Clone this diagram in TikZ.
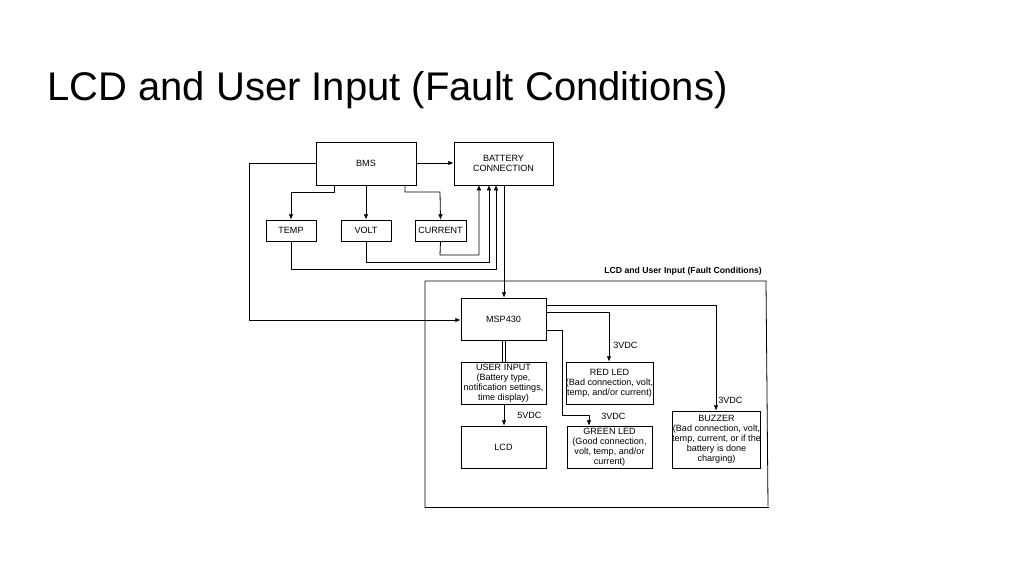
\documentclass[tikz,border=0pt]{standalone}
\usepackage{fontspec}
\setmainfont{Liberation Sans}
\usetikzlibrary{arrows.meta}
\begin{document}
\begin{tikzpicture}[x=0.75pt,y=-0.75pt,
  box/.style={draw,line width=0.6pt,inner sep=0pt,align=center,font=\fontsize{6.8}{7.6}\selectfont},
  ln/.style={draw,line width=0.6pt},
  ar/.style={ln,-{Latex[length=4pt,width=3.5pt]}},
  lab/.style={font=\fontsize{6.8}{8}\selectfont,anchor=west,inner sep=0pt}]
\useasboundingbox (0,0) rectangle (1024,576);
\node[anchor=base west,font=\fontsize{30}{34}\selectfont,inner sep=0pt] (title) at (47,100) {LCD and User Input (Fault Conditions)};
\newcommand{\bx}[6]{\node[box,minimum width={(#4-#2)*0.75pt},minimum height={(#5-#3)*0.75pt}] (#1) at ({(#2+#4)/2},{(#3+#5)/2}) {#6};}
\bx{bms}{316}{142}{416}{185}{BMS}
\bx{bat}{454}{142}{553}{185}{BATTERY\\CONNECTION}
\bx{temp}{266}{220}{316}{241}{TEMP}
\bx{volt}{341}{220}{391}{241}{VOLT}
\bx{cur}{415}{220}{466}{241}{CURRENT}
\bx{msp}{461}{298}{546}{340}{MSP430}
\bx{ui}{461}{362}{546}{404}{USER INPUT\\(Battery type,\\notification settings,\\time display)}
\bx{lcd}{461}{426}{546}{468}{LCD}
\bx{red}{567}{362}{652}{404}{RED LED\\(Bad connection, volt,\\temp, and/or current)}
\bx{green}{567}{426}{652}{468}{GREEN LED\\(Good connection,\\volt, temp, and/or\\current)}
\bx{buz}{674}{411}{759}{468}{BUZZER\\(Bad connection, volt,\\temp, current, or if the\\battery is done\\charging)}
% frame
\draw[ln] (425,508) -- (425,281) -- (766,281) -- (768,506);
\draw[ln] (425,507) -- (769,507);
\node[anchor=base east,font=\bfseries\fontsize{6.5}{8}\selectfont,inner sep=0pt] (flab) at (762,273) {LCD and User Input (Fault Conditions)};
% top connections
\draw[ar] (bms.east |- 0,163) -- (bat.west |- 0,163);
\draw[ar] (334,185) -- (334,192) -- (291,192) -- (temp.north);
\draw[ar] (366,185) -- (volt.north);
\draw[ar] (405,185) -- (405,192) -- (440,192) -- (cur.north);
\draw[ar] (cur.south) -- (440,255) -- (479,255) -- (479,185);
\draw[ar] (volt.south) -- (366,262) -- (489,262) -- (489,185);
\draw[ar] (temp.south) -- (291,269) -- (496,269) -- (496,185);
\draw[ar] (316,163) -- (249,163) -- (249,320) -- (msp.west |- 0,320);
\draw[ar] (504,185) -- (msp.north -| 504,0);
% bottom
\draw[ln] (502,340) -- (502,362);
\draw[ln] (505,340) -- (505,362);
\draw[ar] (504,404) -- (lcd.north -| 504,0);
\draw[ar] (546,312) -- (609,312) -- (red.north -| 609,0);
\draw[ar] (546,330) -- (562,330) -- (562,415) -- (589,415) -- (green.north -| 589,0);
\draw[ar] (546,305) -- (716,305) -- (buz.north -| 716,0);
\node[lab] (l1) at (517,415) {5VDC};
\node[lab] (l2) at (613,345) {3VDC};
\node[lab] (l3) at (601,416) {3VDC};
\node[lab] (l4) at (718,400) {3VDC};
\end{tikzpicture}
\end{document}
